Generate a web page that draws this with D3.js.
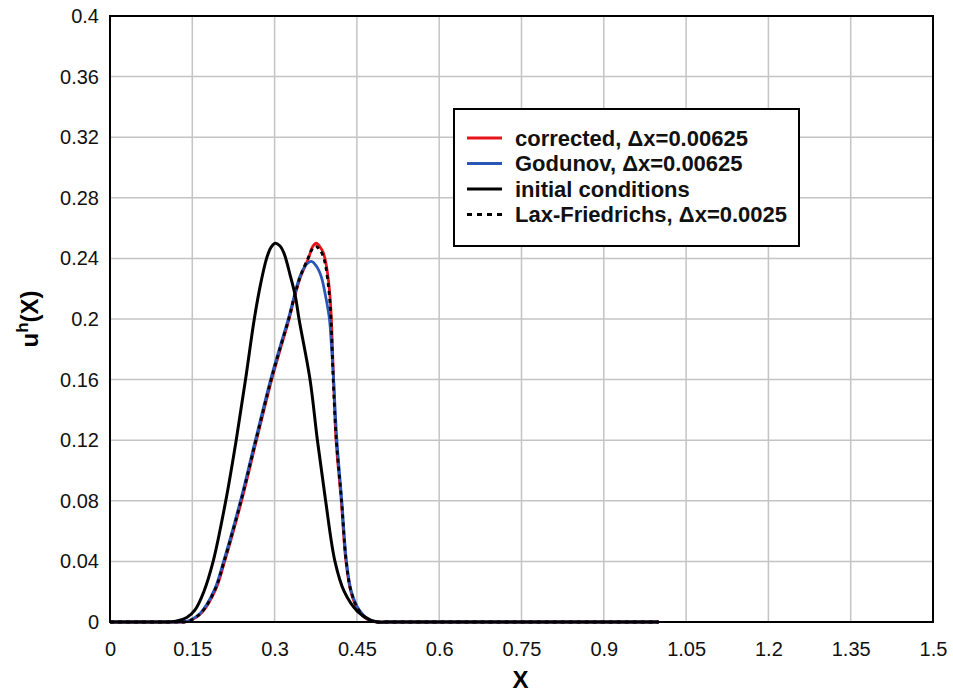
<!DOCTYPE html>
<html>
<head>
<meta charset="utf-8">
<script src="https://cdn.jsdelivr.net/npm/d3@7"></script>
<style>
  html, body { margin: 0; padding: 0; background: #fff; }
  svg { display: block; font-family: "Liberation Sans", Arial, sans-serif; }
</style>
</head>
<body>
<svg id="chart" width="953" height="694"></svg>
<script>
// ---- data ----
const xTicks = [0, 0.15, 0.3, 0.45, 0.6, 0.75, 0.9, 1.05, 1.2, 1.35, 1.5];
const yTicks = [0, 0.04, 0.08, 0.12, 0.16, 0.2, 0.24, 0.28, 0.32, 0.36, 0.4];
const xTickLabels = ["0", "0.15", "0.3", "0.45", "0.6", "0.75", "0.9", "1.05", "1.2", "1.35", "1.5"];
const yTickLabels = ["0", "0.04", "0.08", "0.12", "0.16", "0.2", "0.24", "0.28", "0.32", "0.36", "0.4"];

const initX = [0, 0.05, 0.10, 0.12, 0.14, 0.155, 0.171, 0.188, 0.211, 0.230, 0.247, 0.263, 0.275, 0.2854, 0.293, 0.301, 0.309, 0.317, 0.329, 0.338, 0.3445, 0.3646, 0.378, 0.393, 0.410, 0.427, 0.451, 0.476, 0.49, 0.51, 0.6, 1.0];
const initU = [0, 0, 0, 0.0005, 0.003, 0.008, 0.020, 0.040, 0.080, 0.120, 0.160, 0.200, 0.224, 0.240, 0.247, 0.250, 0.2485, 0.2435, 0.228, 0.2147, 0.200, 0.160, 0.120, 0.080, 0.040, 0.020, 0.007, 0.001, 0, 0, 0, 0];

const corrX = [0, 0.05, 0.12, 0.135, 0.147, 0.167, 0.192, 0.209, 0.2398, 0.267, 0.2947, 0.310, 0.3265, 0.336, 0.3475, 0.3616, 0.369, 0.376, 0.383, 0.389, 0.394, 0.398, 0.401, 0.4035, 0.4055, 0.4075, 0.412, 0.4215, 0.430, 0.439, 0.452, 0.468, 0.485, 0.50, 0.6, 1.0];
const corrU = [0, 0, 0, 0, 0.001, 0.006, 0.021, 0.040, 0.080, 0.120, 0.160, 0.1795, 0.200, 0.214, 0.228, 0.240, 0.2475, 0.250, 0.2475, 0.2435, 0.236, 0.226, 0.2147, 0.200, 0.180, 0.160, 0.120, 0.080, 0.040, 0.020, 0.008, 0.002, 0, 0, 0, 0];

const godX = [0, 0.05, 0.12, 0.133, 0.145, 0.165, 0.190, 0.207, 0.2378, 0.265, 0.2927, 0.308, 0.325, 0.335, 0.346, 0.357, 0.367, 0.376, 0.385, 0.393, 0.400, 0.404, 0.4075, 0.4135, 0.4225, 0.431, 0.440, 0.454, 0.470, 0.487, 0.50, 0.6, 1.0];
const godU = [0, 0, 0, 0, 0.001, 0.006, 0.021, 0.040, 0.080, 0.120, 0.160, 0.1795, 0.200, 0.214, 0.228, 0.2356, 0.238, 0.235, 0.228, 0.215, 0.200, 0.180, 0.160, 0.120, 0.080, 0.040, 0.020, 0.008, 0.002, 0, 0, 0, 0];

const lfX = [0, 0.05, 0.12, 0.134, 0.146, 0.166, 0.191, 0.208, 0.2388, 0.266, 0.2937, 0.309, 0.3258, 0.3355, 0.3468, 0.3608, 0.368, 0.375, 0.382, 0.388, 0.393, 0.397, 0.4002, 0.4028, 0.4049, 0.4068, 0.4125, 0.422, 0.4305, 0.4395, 0.453, 0.469, 0.486, 0.50, 0.6, 1.0];
const lfU = [0, 0, 0, 0, 0.001, 0.006, 0.021, 0.040, 0.080, 0.120, 0.160, 0.1795, 0.200, 0.214, 0.228, 0.240, 0.2458, 0.248, 0.2458, 0.242, 0.235, 0.225, 0.214, 0.200, 0.180, 0.160, 0.120, 0.080, 0.040, 0.020, 0.008, 0.002, 0, 0, 0, 0];

const seriesNames = ["corrected, \u0394x=0.00625", "Godunov, \u0394x=0.00625", "initial conditions", "Lax-Friedrichs, \u0394x=0.0025"];

// ---- layout ----
const svg = d3.select("#chart");
const L = 110, R = 933, T = 16, B = 622;

const x = d3.scaleLinear().domain([0, 1.5]).range([L, R]);
const y = d3.scaleLinear().domain([0, 0.4]).range([B, T]);

// grid
const grid = svg.append("g");
grid.selectAll("line.v").data(xTicks.slice(1, -1)).enter().append("line")
  .attr("x1", d => x(d)).attr("x2", d => x(d)).attr("y1", T).attr("y2", B)
  .attr("stroke", "#c4c4c4").attr("stroke-width", 1.5);
grid.selectAll("line.h").data(yTicks.slice(1, -1)).enter().append("line")
  .attr("x1", L).attr("x2", R).attr("y1", d => y(d)).attr("y2", d => y(d))
  .attr("stroke", "#c4c4c4").attr("stroke-width", 1.5);

// axes (labels only)
const xAxis = d3.axisBottom(x).tickValues(xTicks).tickSize(0).tickPadding(20)
  .tickFormat((d, i) => xTickLabels[i]);
const gx = svg.append("g").attr("transform", `translate(0,${B})`).call(xAxis);
gx.select(".domain").remove();
gx.selectAll("text").attr("font-size", 20).attr("font-family", "Liberation Sans, Arial, sans-serif").attr("fill", "#111");

const yAxis = d3.axisLeft(y).tickValues(yTicks).tickSize(0).tickPadding(11)
  .tickFormat((d, i) => yTickLabels[i]);
const gy = svg.append("g").attr("transform", `translate(${L},0)`).call(yAxis);
gy.select(".domain").remove();
gy.selectAll("text").attr("font-size", 20).attr("font-family", "Liberation Sans, Arial, sans-serif").attr("fill", "#111");

// curves
const mk = (xs, us) => xs.map((v, i) => [v, us[i]]);
const line = d3.line().x(d => x(d[0])).y(d => y(d[1])).curve(d3.curveCatmullRom.alpha(0.5));
const plot = svg.append("g");
plot.append("path").attr("d", line(mk(corrX, corrU))).attr("fill", "none").attr("stroke", "#e8141c").attr("stroke-width", 2.8);
plot.append("path").attr("d", line(mk(godX, godU))).attr("fill", "none").attr("stroke", "#2a56b8").attr("stroke-width", 2.8);
plot.append("path").attr("d", line(mk(initX, initU))).attr("fill", "none").attr("stroke", "#000").attr("stroke-width", 3);
plot.append("path").attr("d", line(mk(lfX, lfU))).attr("fill", "none").attr("stroke", "#000").attr("stroke-width", 2.8).attr("stroke-dasharray", "4,4");

// frame
svg.append("rect").attr("x", L).attr("y", T).attr("width", R - L).attr("height", B - T)
  .attr("fill", "none").attr("stroke", "#000").attr("stroke-width", 2);

// axis titles
svg.append("text").attr("x", (L + R) / 2 - 1).attr("y", 688).attr("text-anchor", "middle")
  .attr("font-size", 24).attr("font-weight", "bold").text("X");
const yt = svg.append("text").attr("transform", `translate(38,${(T + B) / 2}) rotate(-90)`)
  .attr("text-anchor", "middle").attr("font-size", 24).attr("font-weight", "bold");
yt.append("tspan").text("u");
yt.append("tspan").attr("font-size", 17).attr("dy", -10).text("h");
yt.append("tspan").attr("dy", 10).text("(X)");

// legend
const lg = svg.append("g");
lg.append("rect").attr("x", 454).attr("y", 109).attr("width", 345).attr("height", 137)
  .attr("fill", "#fff").attr("stroke", "#000").attr("stroke-width", 2);
const legColors = ["#e8141c", "#2a56b8", "#000", "#000"];
const legDash = [null, null, null, "5,5"];
seriesNames.forEach((name, i) => {
  const yy = 138 + i * 25.5;
  lg.append("line").attr("x1", 467).attr("x2", 502).attr("y1", yy).attr("y2", yy)
    .attr("stroke", legColors[i]).attr("stroke-width", 3).attr("stroke-dasharray", legDash[i]);
  lg.append("text").attr("x", 515).attr("y", yy + 7.5).attr("font-size", 22).attr("font-weight", "bold")
    .attr("fill", "#111").text(name);
});
</script>
</body>
</html>
